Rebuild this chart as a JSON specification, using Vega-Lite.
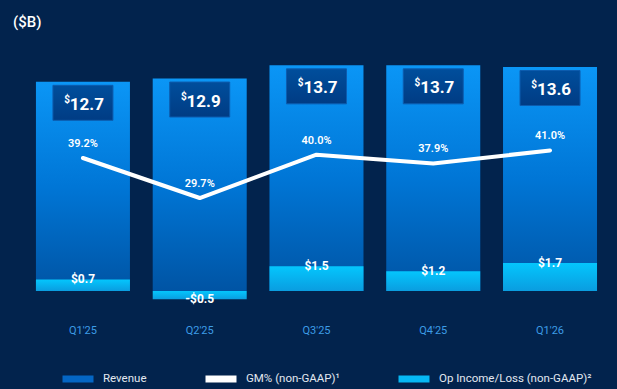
{
  "$schema": "https://vega.github.io/schema/vega-lite/v6.json",
  "width": 587,
  "height": 270,
  "autosize": {"type": "none"},
  "padding": {"left": 20, "top": 40, "right": 10, "bottom": 79},
  "background": "#02234d",
  "title": {"text": "($B)", "anchor": "start", "dx": -7, "offset": 10, "fontSize": 15, "fontWeight": 500, "color": "#ffffff", "font": "Roboto"},
  "config": {
    "view": {"stroke": null},
    "font": "Roboto",
    "legend": {"symbolType": "M-1,0H1", "symbolStrokeWidth": 7, "symbolSize": 961, "symbolOpacity": 1}
  },
  "data": {
    "values": [
      {"q": "Q1'25", "rev": 12.7, "op": 0.7, "opLabel": "$0.7", "gm": 39.2, "gmLabel": "39.2%"},
      {"q": "Q2'25", "rev": 12.9, "op": -0.5, "opLabel": "-$0.5", "gm": 29.7, "gmLabel": "29.7%"},
      {"q": "Q3'25", "rev": 13.7, "op": 1.5, "opLabel": "$1.5", "gm": 40.0, "gmLabel": "40.0%"},
      {"q": "Q4'25", "rev": 13.7, "op": 1.2, "opLabel": "$1.2", "gm": 37.9, "gmLabel": "37.9%"},
      {"q": "Q1'26", "rev": 13.6, "op": 1.7, "opLabel": "$1.7", "gm": 41.0, "gmLabel": "41.0%"}
    ]
  },
  "encoding": {
    "x": {
      "field": "q", "type": "nominal", "sort": null,
      "scale": {"paddingInner": 0.195, "paddingOuter": 0.111, "align": 0.615},
      "axis": {"title": null, "domain": false, "ticks": false, "grid": false, "labelPadding": 14, "labelColor": "#3d9ce6", "labelFontSize": 11, "labelAngle": 0, "labelFont": "Roboto"}
    }
  },
  "layer": [
    {
      "encoding": {
        "y": {"type": "quantitative", "scale": {"domain": [-1.154, 15.24], "zero": false, "nice": false}, "axis": null}
      },
      "layer": [
        {
          "mark": {"type": "bar", "strokeWidth": 0, "fill": {"x1": 0, "y1": 0, "x2": 0, "y2": 1, "gradient": "linear", "stops": [{"offset": 0, "color": "#0b96f6"}, {"offset": 0.5, "color": "#0076d6"}, {"offset": 1, "color": "#0054a4"}]}},
          "encoding": {
            "y": {"field": "rev", "type": "quantitative"},
            "stroke": {
              "datum": "Revenue", "type": "nominal",
              "scale": {"domain": ["Revenue", "GM% (non-GAAP)¹", "Op Income/Loss (non-GAAP)²"], "range": ["#0466c4", "#ffffff", "#06b8f4"]},
              "legend": {
                "title": null, "orient": "none", "legendX": 39, "legendY": 320,
                "direction": "horizontal", "columns": 3, "gridAlign": "none", "columnPadding": 44,
                "symbolSize": 961, "symbolType": "M-1,0H1", "symbolStrokeWidth": 7,
                "labelOffset": 6, "labelFontSize": 11.5, "labelColor": "#e2e8f0", "labelFont": "Roboto"
              }
            }
          }
        },
        {
          "mark": {"type": "bar", "strokeWidth": 0, "fill": {"x1": 0, "y1": 0, "x2": 0, "y2": 1, "gradient": "linear", "stops": [{"offset": 0, "color": "#04c6fd"}, {"offset": 1, "color": "#0a9de0"}]}},
          "encoding": {
            "y": {"field": "op", "type": "quantitative"},
            "stroke": {"datum": "Op Income/Loss (non-GAAP)²", "type": "nominal"}
          }
        },
        {
          "mark": {"type": "rule", "color": "#ffffff", "strokeWidth": 1.5},
          "encoding": {"y": {"datum": 0, "type": "quantitative"}}
        },
        {
          "mark": {"type": "text", "color": "#ffffff", "fontSize": 12, "fontWeight": "bold", "baseline": "middle", "align": "center"},
          "encoding": {
            "y": {"field": "op", "type": "quantitative"},
            "y2": {"datum": 0},
            "text": {"field": "opLabel"}
          }
        },
        {
          "mark": {"type": "point", "filled": true, "opacity": 1, "size": 3600, "shape": "M-1,-0.583H1V0.583H-1Z", "fill": {"x1": 0, "y1": 0, "x2": 0, "y2": 1, "gradient": "linear", "stops": [{"offset": 0, "color": "#004e9c"}, {"offset": 1, "color": "#003c84"}]}, "stroke": "#0d5cae", "strokeWidth": 1},
          "encoding": {
            "y": {"field": "rev", "type": "quantitative"},
            "yOffset": {"value": 21}
          }
        },
        {
          "mark": {"type": "text", "color": "#ffffff", "fontSize": 17, "fontWeight": "bold", "baseline": "middle", "align": "center", "dx": 4, "dy": 23},
          "encoding": {
            "y": {"field": "rev", "type": "quantitative"},
            "text": {"field": "rev", "format": ".1f"}
          }
        },
        {
          "mark": {"type": "text", "color": "#ffffff", "fontSize": 10, "fontWeight": "bold", "baseline": "middle", "align": "right", "dx": -13, "dy": 18},
          "encoding": {
            "y": {"field": "rev", "type": "quantitative"},
            "text": {"value": "$"}
          }
        }
      ]
    },
    {
      "encoding": {
        "y": {"field": "gm", "type": "quantitative", "scale": {"domain": [3.10, 67.23], "zero": false, "nice": false}, "axis": null}
      },
      "layer": [
        {
          "mark": {"type": "line", "strokeWidth": 4, "strokeCap": "round", "strokeJoin": "round"},
          "encoding": {
            "stroke": {"datum": "GM% (non-GAAP)¹", "type": "nominal"}
          }
        },
        {
          "mark": {"type": "text", "color": "#ffffff", "fontSize": 11, "fontWeight": 600, "baseline": "middle", "align": "center", "dy": -14},
          "encoding": {
            "text": {"field": "gmLabel"}
          }
        }
      ]
    }
  ],
  "resolve": {"scale": {"y": "independent"}}
}
